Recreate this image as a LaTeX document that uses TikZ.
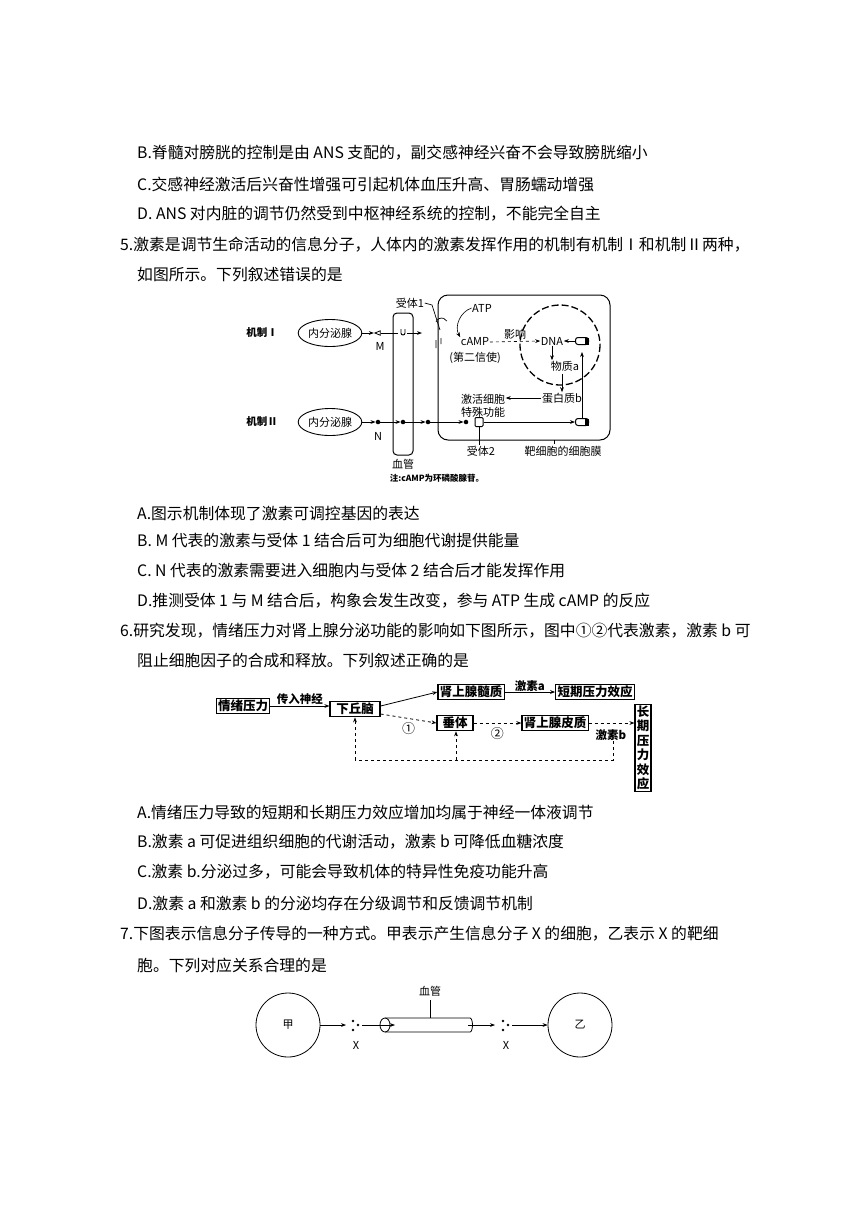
\documentclass[tikz,border=0pt]{standalone}
\usepackage{fontspec}
\setmainfont{Noto Sans CJK SC}
\usetikzlibrary{arrows.meta,shapes.geometric}
\begin{document}
\begin{tikzpicture}[x=1pt,y=-1pt,
 txt/.style={anchor=west,font=\fontsize{15.8}{17}\selectfont,inner sep=0},
 lab/.style={font=\fontsize{11}{13}\selectfont,inner sep=0.5},
 bx/.style={draw,line width=1.1pt,font=\bfseries\fontsize{12.5}{14}\selectfont,inner sep=1.8pt},
 ar/.style={-{Stealth[length=5pt]},line width=0.8pt},
 da/.style={ar,dashed},
 dot/.style={circle,fill,inner sep=1.6pt}]
\useasboundingbox (0,0) rectangle (868,1227);
% text
\node[txt] (t1) at (137,153) {B.脊髓对膀胱的控制是由 ANS 支配的，副交感神经兴奋不会导致膀胱缩小};
\node[txt] (t2) at (137,184) {C.交感神经激活后兴奋性增强可引起机体血压升高、胃肠蠕动增强};
\node[txt] (t3) at (137,214) {D. ANS 对内脏的调节仍然受到中枢神经系统的控制，不能完全自主};
\node[txt] (t4) at (120,245) {5.激素是调节生命活动的信息分子，人体内的激素发挥作用的机制有机制Ⅰ和机制Ⅱ两种，};
\node[txt] (t5) at (137,275) {如图所示。下列叙述错误的是};
\node[txt] (t6) at (137,513) {A.图示机制体现了激素可调控基因的表达};
\node[txt] (t7) at (137,540) {B. M 代表的激素与受体 1 结合后可为细胞代谢提供能量};
\node[txt] (t8) at (137,570) {C. N 代表的激素需要进入细胞内与受体 2 结合后才能发挥作用};
\node[txt] (t9) at (137,601) {D.推测受体 1 与 M 结合后，构象会发生改变，参与 ATP 生成 cAMP 的反应};
\node[txt] (t10) at (120,631) {6.研究发现，情绪压力对肾上腺分泌功能的影响如下图所示，图中①②代表激素，激素 b 可};
\node[txt] (t11) at (137,661) {阻止细胞因子的合成和释放。下列叙述正确的是};
\node[txt] (t12) at (137,812) {A.情绪压力导致的短期和长期压力效应增加均属于神经一体液调节};
\node[txt] (t13) at (137,842) {B.激素 a 可促进组织细胞的代谢活动，激素 b 可降低血糖浓度};
\node[txt] (t14) at (137,872) {C.激素 b.分泌过多，可能会导致机体的特异性免疫功能升高};
\node[txt] (t15) at (137,903) {D.激素 a 和激素 b 的分泌均存在分级调节和反馈调节机制};
\node[txt] (t16) at (120,934) {7.下图表示信息分子传导的一种方式。甲表示产生信息分子 X 的细胞，乙表示 X 的靶细};
\node[txt] (t17) at (137,965) {胞。下列对应关系合理的是};
% ---- diagram 1
\draw[line width=1pt,rounded corners=10pt] (438,295) rectangle (610,440);
\draw[line width=1pt,rounded corners=4pt] (393,313) rectangle (413,455);
\node[lab,font=\bfseries\fontsize{10.5}{12}\selectfont] (m1) at (262,333) {机制Ⅰ};
\node[lab,font=\bfseries\fontsize{10.5}{12}\selectfont] (m2) at (262,422) {机制Ⅱ};
\node[draw,ellipse,line width=0.9pt,minimum width=60pt,minimum height=27pt,inner sep=0,lab] (e1) at (330,333) {内分泌腺};
\node[draw,ellipse,line width=0.9pt,minimum width=60pt,minimum height=27pt,inner sep=0,lab] (e2) at (330,422) {内分泌腺};
\node[draw,isosceles triangle,shape border rotate=180,inner sep=1.2pt,line width=0.8pt] (M) at (379,333) {};
\node[lab] (Ml) at (380,346) {M};
\draw[ar] (e1) -- (M);
\draw[line width=0.8pt] (M) -- (398,333);
\coordinate (u1) at (403,333);
\draw[line width=0.9pt] (401,329) -- (401,333) arc[start angle=180,end angle=0,radius=2] -- (405,329);
\draw[ar] (407,333) -- (422,333);
\coordinate (r1) at (440,330);
\draw[line width=0.7pt] (436,322) arc (200:330:6) (441,338) -- (441,344) (436,340)--(436,348);
\node[lab] (r1l) at (410,303) {受体1};
\draw[line width=0.7pt] (r1l.east) -- (432,305) -- (r1);
\node[lab] (atp) at (482,308) {ATP};
\node[lab] (camp) at (475,342) {cAMP};
\node[lab] (sec) at (475,358) {(第二信使)};
\draw[ar,line width=0.6pt] (atp.west) to[bend right=50] (camp.north west);
\draw[line width=1.3pt,dash pattern=on 7pt off 3pt] (560,345) circle (40);
\node[lab] (dna) at (552,341) {DNA};
\node[lab] (wza) at (565,366) {物质a};
\node[lab] (prb) at (562,398) {蛋白质b};
\node[lab,align=center] (act) at (483,406) {激活细胞\\特殊功能};
\node[draw,line width=1pt,rounded corners=2.5pt,minimum width=13pt,minimum height=7pt,inner sep=0,fill=white] (cap1) at (582,341) {};
\fill (585,337.5) rectangle (588.5,344.5);
\node[draw,line width=1pt,rounded corners=2.5pt,minimum width=13pt,minimum height=7pt,inner sep=0,fill=white] (cap2) at (582,422) {};
\fill (585,418.5) rectangle (588.5,425.5);
\draw[ar,dashed,line width=0.6pt] (camp.east) -- node[lab,above=1pt] {影响} (dna.west);
\draw[ar,line width=0.6pt] (cap1.west) -- (dna.east);
\draw[ar,line width=0.6pt] (dna.south) -- (wza.north -| dna.south);
\draw[ar,line width=0.6pt] (562,374) -- (prb.north);
\draw[ar,line width=0.6pt] (prb.west) -- (act.east |- prb.west);
\draw[ar,line width=0.6pt] (cap2.north) -- (cap2.north |- 0,352);
\node[dot] (N) at (378,422) {};
\node[lab] (Nl) at (378,436) {N};
\node[dot] (d2) at (403,422) {};
\node[dot] (d3) at (428,422) {};
\node[dot] (d4) at (466,422) {};
\draw[ar] (e2) -- (N);
\draw[ar] (N) -- (d2);
\draw[ar] (d2) -- (d3);
\draw[ar] (d3) -- (d4);
\node[draw,line width=1pt,minimum width=8pt,minimum height=9pt,inner sep=0,rounded corners=1pt] (r2) at (479,422) {};
\draw[ar,line width=0.6pt] (r2.east) -- (cap2.west);
\node[lab] (r2l) at (481,451) {受体2};
\draw[line width=0.6pt] (r2.south) -- (r2l.north -| r2.south);
\node[lab] (bv) at (403,464) {血管};
\node[lab] (mem) at (563,451) {靶细胞的细胞膜};
\draw[line width=0.6pt] (554,440) -- (554,444);
\node[lab,font=\bfseries\fontsize{8.5}{10}\selectfont] (note) at (437,478) {注:cAMP为环磷酸腺苷。};
% ---- diagram 2
\node[bx] (qx) at (243,706) {情绪压力};
\node[bx,minimum width=50pt] (xqn) at (355,709) {下丘脑};
\node[bx] (sxs) at (471,692) {肾上腺髓质};
\node[bx] (dq) at (595,692) {短期压力效应};
\node[bx,minimum width=36pt] (ct) at (455,723) {垂体};
\node[bx] (spz) at (555,723) {肾上腺皮质};
\node[bx,align=center,text width=13pt,inner sep=1.5pt,font=\bfseries\fontsize{12.5}{14.5}\selectfont] (cq) at (643,748) {长\\期\\压\\力\\效\\应};
\draw[ar] (qx) -- node[lab,above,font=\bfseries\fontsize{11.5}{13}\selectfont] {传入神经} (qx -| xqn.west);
\draw[ar] (xqn.east) ++(0,-3) -- (sxs.west);
\draw[ar] (sxs) -- node[lab,above,font=\bfseries\fontsize{11.5}{13}\selectfont] {激素a} (dq);
\draw[da] (xqn.east) ++(0,5) -- node[lab,below=3pt,font=\fontsize{13}{13}\selectfont] {①} (ct.west);
\draw[da] (ct) -- node[lab,below=4pt,font=\fontsize{13}{13}\selectfont] {②} (spz);
\draw[da] (spz) -- (cq.west |- spz);
\node[lab,font=\bfseries\fontsize{11.5}{13}\selectfont] (hb) at (611,735) {激素b};
\coordinate (c1) at (613,760);
\coordinate (c2) at (355,760);
\coordinate (c3) at (456,760);
\draw[line width=0.8pt,dashed] (hb.south -| c1) -- (c1) -- (c2);
\draw[da] (c2) -- (xqn.south);
\draw[da] (c3) -- (c3 |- ct.south);
% ---- diagram 3
\node[draw,circle,minimum size=64pt,line width=0.8pt,lab] (jia) at (288,1025) {甲};
\node[draw,circle,minimum size=64pt,line width=0.8pt,lab] (yi) at (580,1025) {乙};
\foreach \p/\n in {355/x1,505/x2}{
 \fill (\p-2,1021) circle (1.3) (\p-2,1030) circle (1.3) (\p+3,1025) circle (1.3);
 \coordinate (\n) at (\p,1025);}
\node[lab] (X1) at (356,1045) {X};
\node[lab] (X2) at (506,1045) {X};
\draw[line width=0.8pt] (385,1018) -- (470,1018) arc[start angle=-90,end angle=90,x radius=2.5,y radius=7] -- (385,1032);
\draw[line width=0.8pt] (385,1025) ellipse (5 and 7);
\draw[ar,line width=0.6pt] (jia.east) -- (346,1025);
\draw[ar,line width=0.6pt] (362,1025) -- (395,1025);
\draw[ar,line width=0.6pt] (468,1025) -- (495,1025);
\draw[ar,line width=0.6pt] (512,1025) -- (yi.west);
\node[lab] (bg) at (430,991) {血管};
\draw[line width=0.6pt] (430,1000) -- (430,1018);
\end{tikzpicture}
\end{document}
